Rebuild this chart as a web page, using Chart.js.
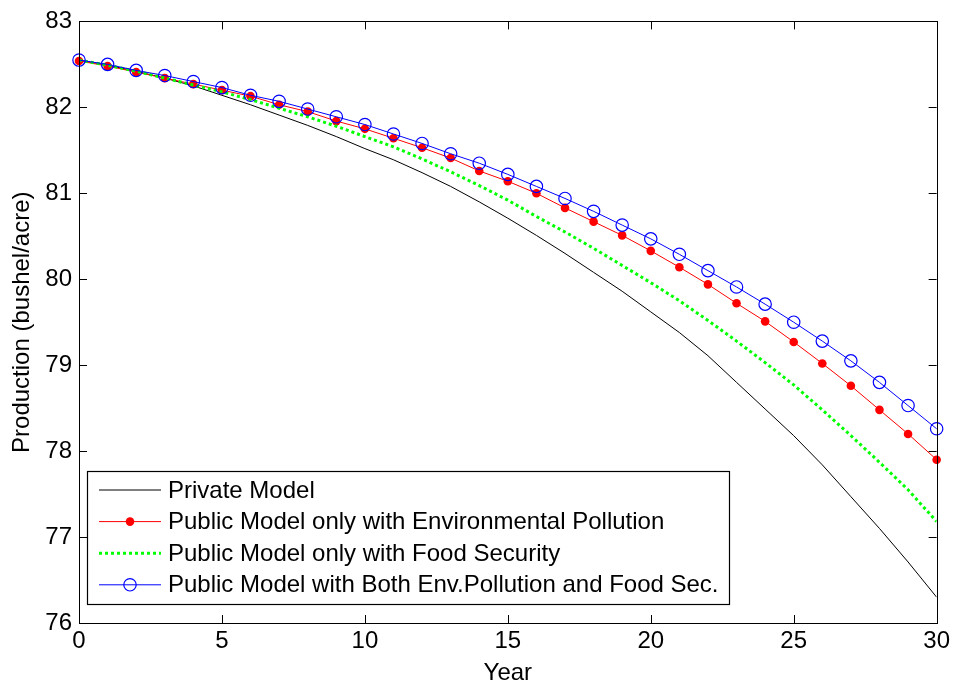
<!DOCTYPE html>
<html>
<head>
<meta charset="utf-8">
<title>Production over time</title>
<script src="https://cdn.jsdelivr.net/npm/chart.js@4.4.1/dist/chart.umd.min.js"></script>
<style>
    html, body { margin: 0; padding: 0; background: #ffffff; }
    #grafico { display: block; }
</style>
</head>
<body>
<canvas id="grafico" width="954" height="686"></canvas>
<script>
// --- Dados ---
const anos = [0, 1, 2, 3, 4, 5, 6, 7, 8, 9, 10, 11, 12, 13, 14, 15, 16, 17, 18, 19, 20,
    21, 22, 23, 24, 25, 26, 27, 28, 29, 30];

const privado = [82.55, 82.49, 82.42, 82.34, 82.25, 82.14, 82.03, 81.91, 81.79, 81.66, 81.52,
    81.39, 81.24, 81.08, 80.90, 80.71, 80.51, 80.30, 80.08, 79.86, 79.62,
    79.38, 79.11, 78.80, 78.49, 78.18, 77.84, 77.47, 77.10, 76.71, 76.30];

const poluicao = [82.54, 82.48, 82.41, 82.34, 82.27, 82.20, 82.13, 82.03, 81.95, 81.84, 81.75,
    81.64, 81.53, 81.41, 81.26, 81.14, 81.00, 80.83, 80.67, 80.51, 80.33,
    80.14, 79.94, 79.72, 79.51, 79.27, 79.02, 78.76, 78.48, 78.20, 77.90];

const seguranca = [82.55, 82.49, 82.42, 82.34, 82.26, 82.18, 82.09, 81.99, 81.89, 81.78, 81.66,
    81.54, 81.40, 81.25, 81.09, 80.92, 80.73, 80.55, 80.36, 80.16, 79.96,
    79.75, 79.52, 79.28, 79.03, 78.77, 78.48, 78.18, 77.87, 77.55, 77.18];

const ambos = [82.55, 82.50, 82.43, 82.37, 82.30, 82.23, 82.14, 82.07, 81.98, 81.89, 81.80,
    81.69, 81.58, 81.46, 81.35, 81.22, 81.08, 80.94, 80.79, 80.63, 80.47,
    80.29, 80.10, 79.91, 79.71, 79.50, 79.28, 79.05, 78.80, 78.53, 78.26];

const legendas = [
    'Private Model',
    'Public Model only with Environmental Pollution',
    'Public Model only with Food Security',
    'Public Model with Both Env.Pollution and Food Sec.'
];

const ticksX = [0, 5, 10, 15, 20, 25, 30];
const ticksY = [76, 77, 78, 79, 80, 81, 82, 83];

const FONTE = "'Liberation Sans', Arial, Helvetica, sans-serif";

// monta os pontos {x, y} a partir dos arrays
const pontos = (valores) => anos.map((ano, i) => ({ x: ano, y: valores[i] }));

/**
 * Caixa do gráfico com ticks para dentro (estilo MATLAB).
 */
const caixaPlugin = {
    id: 'caixa',
    afterDatasetsDraw(chart) {
        const { ctx, chartArea: a, scales } = chart;
        const tam = 8;
        ctx.save();
        ctx.strokeStyle = '#000000';
        ctx.lineWidth = 1;
        ctx.beginPath();
        ticksX.forEach((v) => {
            const px = Math.round(scales.x.getPixelForValue(v)) + 0.5;
            ctx.moveTo(px, a.bottom);
            ctx.lineTo(px, a.bottom - tam);
            ctx.moveTo(px, a.top);
            ctx.lineTo(px, a.top + tam);
        });
        ticksY.forEach((v) => {
            const py = Math.round(scales.y.getPixelForValue(v)) + 0.5;
            ctx.moveTo(a.left, py);
            ctx.lineTo(a.left + tam, py);
            ctx.moveTo(a.right, py);
            ctx.lineTo(a.right - tam, py);
        });
        ctx.stroke();
        ctx.strokeRect(Math.round(a.left) + 0.5, Math.round(a.top) + 0.5,
            Math.round(a.right - a.left), Math.round(a.bottom - a.top));
        ctx.restore();
    }
};

/**
 * Legenda dentro da área do gráfico, canto inferior esquerdo.
 */
const legendaPlugin = {
    id: 'legendaInterna',
    afterDraw(chart) {
        const { ctx } = chart;
        const caixa = { x: 87, y: 471, w: 642, h: 133 };
        const linhaX0 = 99, linhaX1 = 161, textoX = 168;
        const passo = 31.6, primeira = 490;

        ctx.save();
        ctx.fillStyle = '#ffffff';
        ctx.fillRect(caixa.x, caixa.y, caixa.w, caixa.h);
        ctx.strokeStyle = '#000000';
        ctx.lineWidth = 1.2;
        ctx.strokeRect(caixa.x + 0.5, caixa.y + 0.5, caixa.w, caixa.h);

        chart.data.datasets.forEach((ds, i) => {
            const cy = primeira + i * passo;
            ctx.save();
            ctx.strokeStyle = ds.borderColor;
            ctx.lineWidth = ds.borderWidth;
            ctx.setLineDash(ds.borderDash || []);
            ctx.beginPath();
            ctx.moveTo(linhaX0, cy);
            ctx.lineTo(linhaX1, cy);
            ctx.stroke();
            ctx.setLineDash([]);
            if (ds.pointRadius > 0) {
                const mx = (linhaX0 + linhaX1) / 2;
                ctx.beginPath();
                ctx.arc(mx, cy, ds.pointRadius, 0, Math.PI * 2);
                if (ds.pointBackgroundColor !== 'transparent') {
                    ctx.fillStyle = ds.pointBackgroundColor;
                    ctx.fill();
                }
                if (ds.pointBorderWidth > 0) {
                    ctx.strokeStyle = ds.pointBorderColor;
                    ctx.lineWidth = ds.pointBorderWidth;
                    ctx.stroke();
                }
            }
            ctx.restore();

            ctx.fillStyle = '#000000';
            ctx.font = `24px ${FONTE}`;
            ctx.textBaseline = 'middle';
            ctx.textAlign = 'left';
            ctx.fillText(ds.label, textoX, cy + 1);
        });
        ctx.restore();
    }
};

const ctx = document.getElementById('grafico').getContext('2d');

new Chart(ctx, {
    type: 'line',
    data: {
        datasets: [
            {
                label: legendas[0],
                data: pontos(privado),
                borderColor: '#000000',
                borderWidth: 1,
                pointRadius: 0,
                tension: 0,
                order: 4
            },
            {
                label: legendas[1],
                data: pontos(poluicao),
                borderColor: '#ff0000',
                borderWidth: 1,
                pointRadius: 4.3,
                pointBackgroundColor: '#ff0000',
                pointBorderColor: '#ff0000',
                pointBorderWidth: 0,
                tension: 0,
                clip: false,
                order: 3
            },
            {
                label: legendas[2],
                data: pontos(seguranca),
                borderColor: '#00ff00',
                borderWidth: 3,
                borderDash: [3, 3],
                borderCapStyle: 'butt',
                pointRadius: 0,
                tension: 0,
                order: 2
            },
            {
                label: legendas[3],
                data: pontos(ambos),
                borderColor: '#0000ff',
                borderWidth: 1,
                pointRadius: 6.2,
                pointBackgroundColor: 'transparent',
                pointBorderColor: '#0000ff',
                pointBorderWidth: 1.2,
                tension: 0,
                clip: false,
                order: 1
            }
        ]
    },
    options: {
        responsive: false,
        animation: false,
        devicePixelRatio: 1,
        layout: { padding: { top: 19, right: 17, left: 0, bottom: 0 } },
        plugins: {
            legend: { display: false },
            tooltip: { enabled: false },
            title: { display: false }
        },
        scales: {
            x: {
                type: 'linear',
                min: 0,
                max: 30,
                afterFit: (scale) => { scale.height = 63; },
                afterBuildTicks: (scale) => { scale.ticks = ticksX.map((v) => ({ value: v })); },
                grid: { display: false, drawTicks: false },
                border: { display: false },
                ticks: {
                    color: '#000000',
                    font: { family: FONTE, size: 24 },
                    padding: 4,
                    maxRotation: 0
                },
                title: {
                    display: true,
                    text: 'Year',
                    color: '#000000',
                    font: { family: FONTE, size: 24, lineHeight: 1 },
                    padding: { top: 0, bottom: 1 }
                }
            },
            y: {
                type: 'linear',
                min: 76,
                max: 83,
                afterFit: (scale) => { scale.width = 79; },
                afterBuildTicks: (scale) => { scale.ticks = ticksY.map((v) => ({ value: v })); },
                grid: { display: false, drawTicks: false },
                border: { display: false },
                ticks: {
                    color: '#000000',
                    font: { family: FONTE, size: 24 },
                    padding: 7
                },
                title: {
                    display: true,
                    text: 'Production (bushel/acre)',
                    color: '#000000',
                    font: { family: FONTE, size: 24, lineHeight: 1 },
                    padding: { top: 10, bottom: 0 }
                }
            }
        }
    },
    plugins: [caixaPlugin, legendaPlugin]
});
</script>
</body>
</html>
